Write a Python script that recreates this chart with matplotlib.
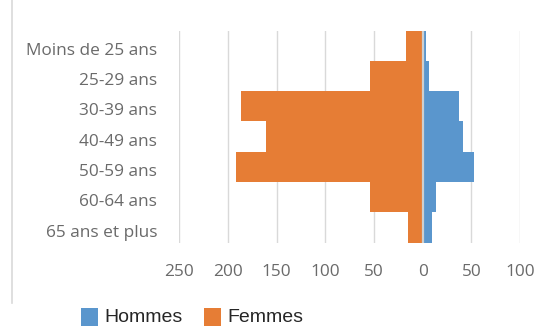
import matplotlib
matplotlib.use("Agg")
import matplotlib.pyplot as plt
import matplotlib.transforms as mtransforms
from matplotlib.patches import Rectangle
from matplotlib.lines import Line2D
from matplotlib.ticker import FuncFormatter
import numpy as np

# Age groups, top to bottom
categories = ["Moins de 25 ans", "25-29 ans", "30-39 ans", "40-49 ans",
              "50-59 ans", "60-64 ans", "65 ans et plus"]
hommes = [3, 7, 37, 41, 53, 14, 10]
femmes = [17, 54, 187, 161, 192, 54, 15]
x_ticks = [-250, -200, -150, -100, -50, 0, 50, 100]

blue = "#5A96CD"
orange = "#E67D35"
grid_col = "#D9D9D9"
label_col = "#6A6A6A"

fig = plt.figure(figsize=(5.54, 3.26), dpi=100)
W, H = 554, 326
ax = fig.add_axes([179.3 / W, (H - 242.7) / H, 340.7 / W, 212.2 / H])

y = np.arange(len(categories))
ax.barh(y, [-v for v in femmes], height=1.0, color=orange, zorder=2, linewidth=0)
ax.barh(y, hommes, height=1.0, color=blue, zorder=2, linewidth=0)

ax.set_xlim(-250, 100)
ax.set_ylim(len(categories) - 0.5, -0.5)
ax.set_xticks(x_ticks)
ax.xaxis.set_major_formatter(FuncFormatter(lambda v, p: f"{abs(int(v))}"))
ax.set_yticks(y)
ax.set_yticklabels(categories)

ax.grid(axis="x", color=grid_col, linewidth=1.0, zorder=0)
ax.set_axisbelow(True)
ax.axvline(0, color="#CFCFCF", linewidth=1.6, zorder=3)

for s in ax.spines.values():
    s.set_visible(False)

font = "Open Sans"
ax.tick_params(axis="both", length=0, labelcolor=label_col, labelsize=12.4)
ax.tick_params(axis="x", pad=15)
ax.tick_params(axis="y", pad=16)
for lab in ax.get_xticklabels() + ax.get_yticklabels():
    lab.set_fontfamily(font)
offset = mtransforms.ScaledTranslation(0, -3 / 100, fig.dpi_scale_trans)
for lab in ax.get_yticklabels():
    lab.set_transform(lab.get_transform() + offset)

# chart frame edge on the left
fig.add_artist(Line2D([12 / W, 12 / W], [1, (H - 303) / H],
                      color=grid_col, linewidth=1.2, transform=fig.transFigure))

# legend
for x0, col, name in [(81, blue, "Hommes"), (204, orange, "Femmes")]:
    fig.add_artist(Rectangle((x0 / W, (H - 325.5) / H), 17 / W, 17.5 / H,
                             color=col, transform=fig.transFigure, linewidth=0))
    fig.text((x0 + 23) / W, (H - 317.5) / H, name, fontsize=14,
             family="Liberation Sans", color="#262626", va="center", ha="left")

fig.savefig("out.png", dpi=100)
